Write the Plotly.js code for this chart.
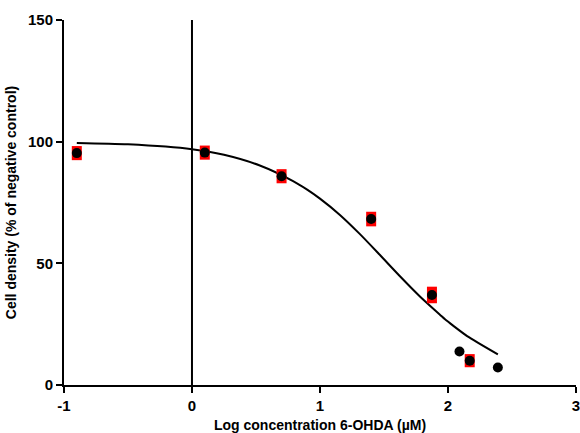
<!DOCTYPE html>
<html>
<head>
<meta charset="utf-8">
<script src="https://cdn.plot.ly/plotly-3.0.1.min.js"></script>
<style>html,body{margin:0;padding:0;background:#fff;}#chart{width:580px;height:433px;}</style>
</head>
<body>
<div id="chart"></div>
<script>
// Measured data (log concentration, % of negative control)
const logConc = [-0.9, 0.1, 0.7, 1.4, 1.875, 2.09, 2.17, 2.39];
const cellDensity = [95.3, 95.5, 85.8, 68.2, 37.0, 13.8, 10.0, 7.2];
const errors = [2.9, 2.9, 2.9, 3.0, 3.4, 0, 2.7, 0];

// Fitted curve
const fitX = [-0.9, -0.5, 0.0, 0.25, 0.53, 0.79, 0.9, 1.0, 1.156, 1.3125, 1.469, 1.625, 1.781, 1.9375, 1.977, 2.04, 2.15, 2.39];
const fitY = [99.5, 98.9, 96.9, 94.6, 90.2, 83.8, 80.3, 76.6, 69.9, 62.0, 53.4, 44.7, 36.4, 28.9, 27.0, 24.4, 20.1, 12.6];

const xTicks = [-1, 0, 1, 2, 3];
const yTicks = [0, 50, 100, 150];

const font = {family: 'Liberation Sans, Arial, sans-serif', color: '#000'};

const traces = [
  {
    x: fitX, y: fitY, type: 'scatter', mode: 'lines',
    line: {color: '#000', width: 2, shape: 'spline', smoothing: 0.7},
    hoverinfo: 'skip', showlegend: false, cliponaxis: false
  },
  {
    x: logConc, y: cellDensity, type: 'scatter', mode: 'markers',
    marker: {color: '#000', size: 10},
    error_y: {type: 'data', array: errors, visible: true, color: '#ff0000', thickness: 10, width: 0},
    showlegend: false, cliponaxis: false
  }
];

const layout = {
  width: 580, height: 433,
  margin: {l: 64, r: 4, t: 20, b: 48},
  paper_bgcolor: '#fff', plot_bgcolor: '#fff',
  font: font,
  xaxis: {
    range: [-1, 3.0005], tickvals: xTicks, ticktext: xTicks.map(String),
    showline: true, linecolor: '#000', linewidth: 2,
    ticks: 'outside', ticklen: 6, tickwidth: 2, tickcolor: '#000',
    showgrid: false, zeroline: false, ticklabeloverflow: 'allow',
    tickfont: {family: font.family, size: 15, color: '#000', weight: 'bold'},
    title: {text: '<b>Log concentration 6-OHDA (µM)</b>', font: {family: font.family, size: 14, color: '#000'}, standoff: 7}
  },
  yaxis: {
    range: [0, 150], tickvals: yTicks, ticktext: yTicks.map(String),
    showline: true, linecolor: '#000', linewidth: 2,
    ticks: 'outside', ticklen: 6, tickwidth: 2, tickcolor: '#000',
    showgrid: false, zeroline: false, ticklabeloverflow: 'allow',
    tickfont: {family: font.family, size: 15, color: '#000', weight: 'bold'},
    title: {text: '<b>Cell density (% of negative control)</b>', font: {family: font.family, size: 14, color: '#000'}, standoff: 8}
  },
  shapes: [
    {type: 'line', xref: 'x', yref: 'y', x0: 0, x1: 0, y0: 0, y1: 150, line: {color: '#000', width: 2}}
  ]
};

Plotly.newPlot('chart', traces, layout, {displayModeBar: false, staticPlot: true});
</script>
</body>
</html>
